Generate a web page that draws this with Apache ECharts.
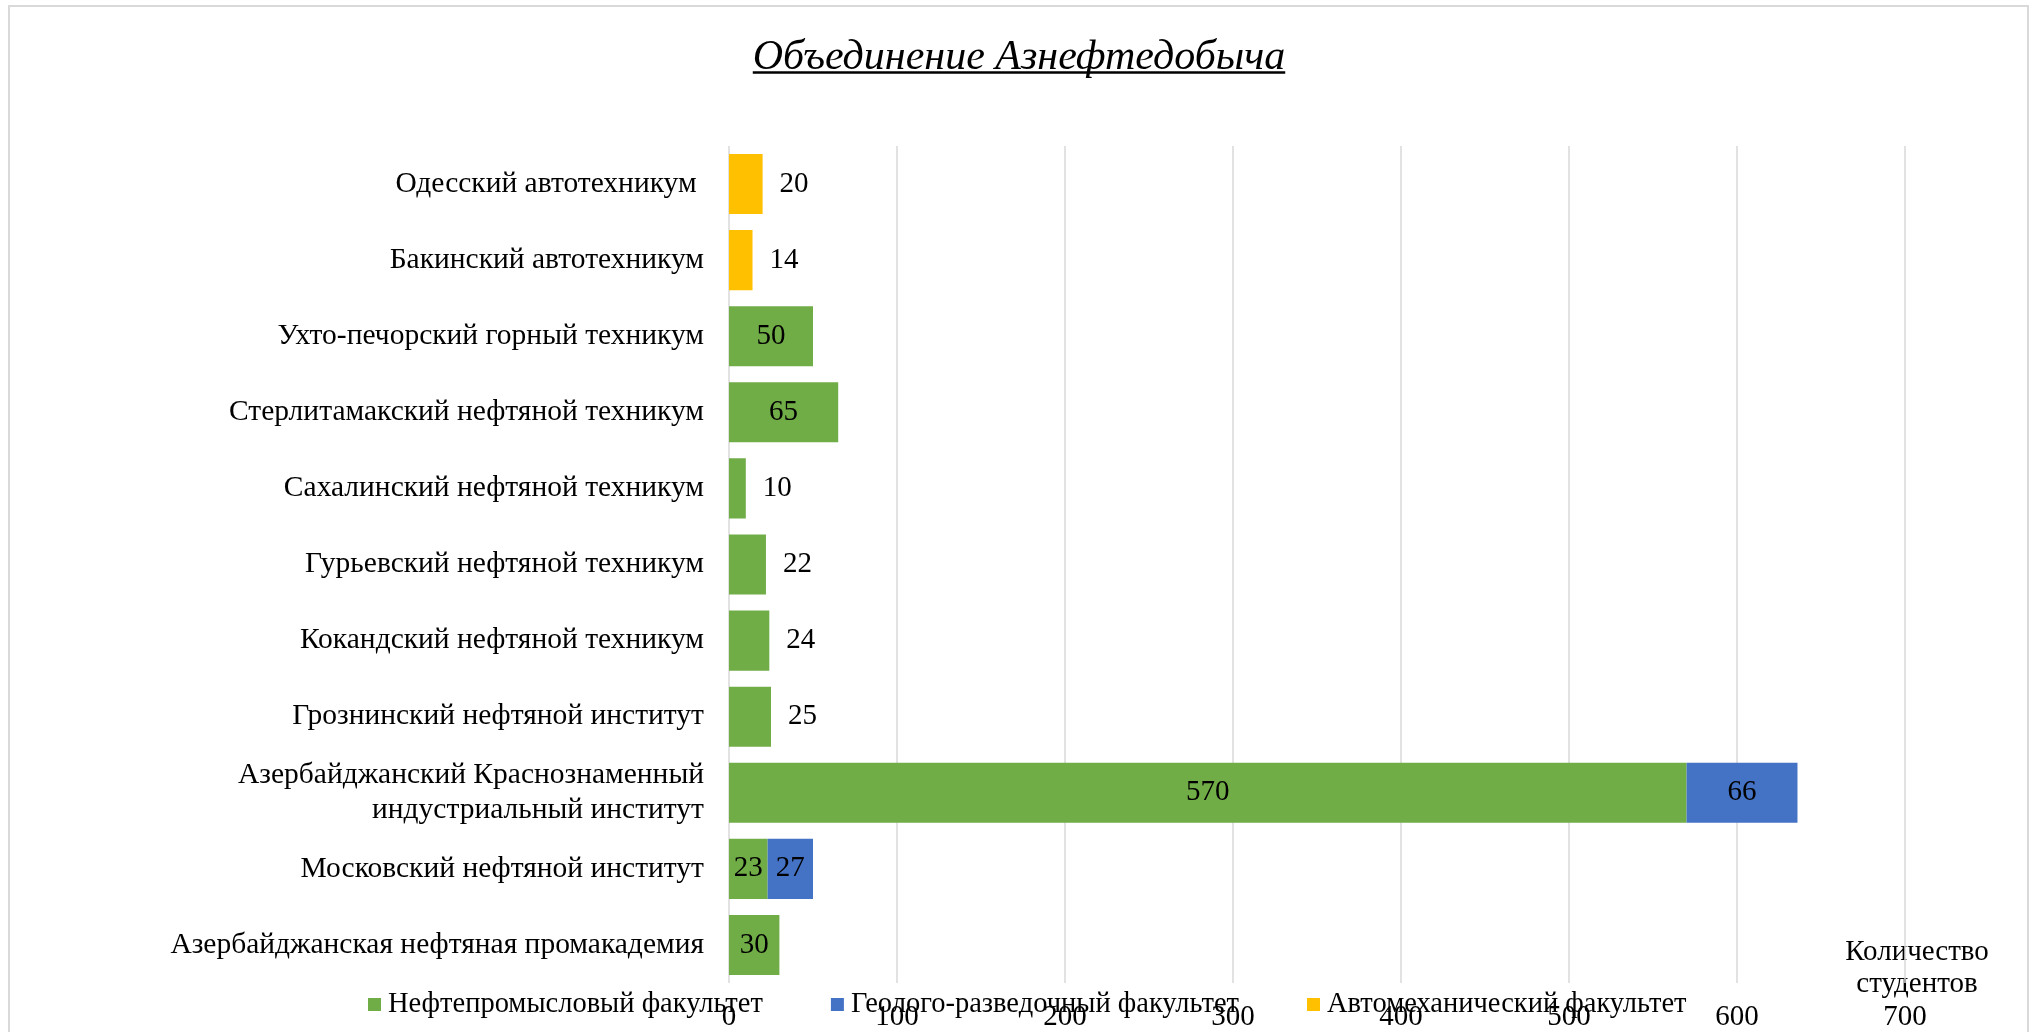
<!DOCTYPE html>
<html>
<head>
<meta charset="utf-8">
<script src="https://cdn.jsdelivr.net/npm/echarts@6/dist/echarts.min.js"></script>
<style>html,body{margin:0;padding:0;background:#fff;}#c{width:2035px;height:1032px;}</style>
</head>
<body>
<div id="c"></div>
<script>
var titleText = 'Объединение Азнефтедобыча';
var categories = [
  'Азербайджанская нефтяная промакадемия',
  'Московский нефтяной институт',
  'Азербайджанский Краснознаменный\nиндустриальный институт',
  'Грознинский нефтяной институт',
  'Кокандский нефтяной техникум',
  'Гурьевский нефтяной техникум',
  'Сахалинский нефтяной техникум',
  'Стерлитамакский нефтяной техникум',
  'Ухто-печорский горный техникум',
  'Бакинский автотехникум',
  'Одесский автотехникум '
];
var seriesNames = ['Нефтепромысловый факультет', 'Геолого-разведочный факультет', 'Автомеханический факультет'];
var oilField = [30, 23, 570, 25, 24, 22, 10, 65, 50, null, null];
var geology  = [null, 27, 66, null, null, null, null, null, null, null, null];
var automech = [null, null, null, null, null, null, null, null, null, 14, 20];
var axisName = 'Количество\nстудентов';
var xTicks = [0, 100, 200, 300, 400, 500, 600, 700];

var colors = ['#70AD47', '#4472C4', '#FFC000'];
var FONT = '"Liberation Serif", "Times New Roman", serif';
var all = [oilField, geology, automech];

function build(arr) {
  return arr.map(function (v, i) {
    if (v == null) return null;
    var count = all.filter(function (a) { return a[i] != null; }).length;
    if (count === 1 && v < 26) {
      return { value: v, label: { position: 'right', distance: 17 } };
    }
    return v;
  });
}

// measure title for underline
var cv = document.createElement('canvas').getContext('2d');
var titleFont = 'italic 42px "Liberation Serif"';
cv.font = titleFont;
var tw = cv.measureText(titleText).width;
var tcx = 1019;

var chart = echarts.init(document.getElementById('c'));
chart.setOption({
  animation: false,
  backgroundColor: '#fff',
  graphic: [
    { type: 'rect', shape: { x: 9, y: 6, width: 2019, height: 1040 }, style: { fill: 'none', stroke: '#D9D9D9', lineWidth: 2 }, silent: true },
    { type: 'text', x: tcx, y: 79, style: { text: titleText, font: titleFont, fill: '#000', textAlign: 'center', textVerticalAlign: 'bottom' } },
    { type: 'line', shape: { x1: tcx - tw / 2, y1: 72.5, x2: tcx + tw / 2, y2: 72.5 }, style: { stroke: '#000', lineWidth: 2.5 } },
    { type: 'text', x: 1917, y: 968, style: { text: axisName, font: '29px "Liberation Serif"', fill: '#000', textAlign: 'center', textVerticalAlign: 'middle', lineHeight: 32 } }
  ],
  legend: {
    left: 363, top: 985,
    itemWidth: 13, itemHeight: 13, itemGap: 68,
    icon: 'rect',
    textStyle: { fontFamily: FONT, fontSize: 28.5, color: '#000', padding: [0, 0, 0, 2] },
    data: seriesNames
  },
  grid: { left: 729, right: 130, top: 146, bottom: 49, containLabel: false, outerBoundsMode: 'none' },
  xAxis: {
    type: 'value', min: 0, max: 700, interval: 100,
    axisLine: { show: false }, axisTick: { show: false },
    splitLine: { show: true, lineStyle: { color: '#D9D9D9', width: 1.5 } },
    axisLabel: { fontFamily: FONT, fontSize: 29, color: '#000', margin: 20,
      formatter: function (v) { return xTicks.indexOf(v) >= 0 ? String(v) : ''; } }
  },
  yAxis: {
    type: 'category', data: categories,
    axisLine: { show: false }, axisTick: { show: false },
    axisLabel: { fontFamily: FONT, fontSize: 29.5, color: '#000', margin: 25, lineHeight: 35, align: 'right' }
  },
  series: [0, 1, 2].map(function (k) {
    return {
      name: seriesNames[k], type: 'bar', stack: 'total',
      data: build(all[k]),
      barCategoryGap: '21%',
      itemStyle: { color: colors[k] },
      label: { show: true, position: 'inside', fontFamily: FONT, fontSize: 29, color: '#000' }
    };
  })
});
</script>
</body>
</html>
